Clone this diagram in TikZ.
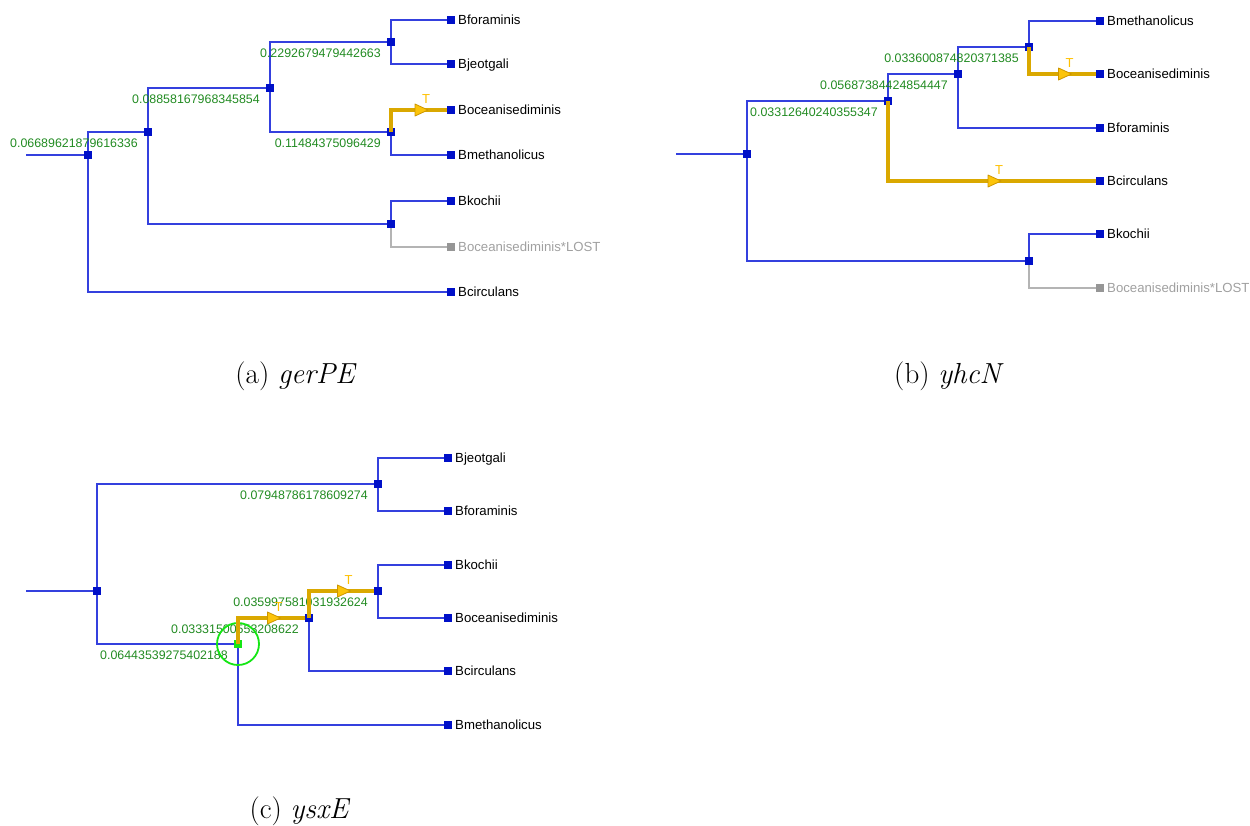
\documentclass[tikz,border=0pt]{standalone}
\usepackage{fontspec}
\newfontfamily\lsans{Liberation Sans}
\usetikzlibrary{calc}
\pgfdeclarelayer{edges}
\pgfdeclarelayer{marks}
\pgfsetlayers{edges,main,marks}

\definecolor{brblue}{RGB}{52,64,222}
\definecolor{sqblue}{RGB}{0,16,200}
\definecolor{lostline}{RGB}{180,180,180}
\definecolor{lostsq}{RGB}{150,150,150}
\definecolor{losttext}{RGB}{160,160,160}
\definecolor{lengreen}{RGB}{34,139,34}
\definecolor{hlgold}{RGB}{218,168,0}
\definecolor{trifill}{RGB}{252,196,10}
\definecolor{triedge}{RGB}{205,150,0}
\definecolor{tcol}{RGB}{255,192,0}
\definecolor{ringgreen}{RGB}{20,230,20}

% a leaf: square marker plus its name to the right
\newcommand{\mkleaf}[4]{%
  \node[bnode] (#1) at (#2,#3) {};
  \node[leaftxt] (#1-t) at ([shift={(7,4.7)}]#1.center) {#4};}
% a lost leaf, drawn in grey
\newcommand{\mklost}[4]{%
  \node[lostnode] (#1) at (#2,#3) {};
  \node[losttxt] (#1-t) at ([shift={(7,4.7)}]#1.center) {#4};}
% branch length written below-left of an internal node
\newcommand{\mklen}[2]{%
  \node[blen] (#1-len) at ([shift={(-10,15.4)}]#1.center) {#2};}

\begin{document}
\begin{tikzpicture}[x=1pt,y=-1pt,
  bnode/.style={rectangle, fill=sqblue, inner sep=0pt, minimum size=8pt},
  lostnode/.style={bnode, fill=lostsq},
  leaftxt/.style={anchor=base west, inner sep=0pt, font=\lsans\fontsize{13.2}{15}\selectfont},
  losttxt/.style={leaftxt, text=losttext},
  blen/.style={anchor=base east, inner sep=0pt, text=lengreen, font=\lsans\fontsize{12.4}{14}\selectfont},
  br/.style={draw=brblue, line width=1.1pt},
  lostbr/.style={draw=lostline, line width=1.1pt},
  hl/.style={draw=hlgold, line width=3.4pt},
  tlbl/.style={text=tcol, inner sep=0pt, font=\lsans\fontsize{13}{15}\selectfont},
  captxt/.style={font=\fontsize{29}{34}\selectfont, inner sep=0pt},
  tmark/.pic={
    \draw[fill=trifill, draw=triedge, line width=0.8pt, line join=round] (-6,-6) -- (7,0) -- (-6,6) -- cycle;
    \node[tlbl] (-t) at (5,-11) {T};}
]
\useasboundingbox (0,0) rectangle (1250,825);

% ---------------- tree (a) ----------------
\coordinate (a-s) at (26,155);
\node[bnode] (a-r)  at (88,155) {};
\node[bnode] (a-n1) at (148,132) {};
\node[bnode] (a-n2) at (270,88) {};
\node[bnode] (a-n3) at (391,42) {};
\node[bnode] (a-n4) at (391,132) {};
\node[bnode] (a-n5) at (391,224) {};
\mkleaf{a-bf}{451}{20}{Bforaminis}
\mkleaf{a-bj}{451}{64}{Bjeotgali}
\mkleaf{a-boc}{451}{110}{Boceanisediminis}
\mkleaf{a-bm}{451}{155}{Bmethanolicus}
\mkleaf{a-bk}{451}{201}{Bkochii}
\mklost{a-lost}{451}{247}{Boceanisediminis*LOST}
\mkleaf{a-bc}{451}{292}{Bcirculans}
\mklen{a-n1}{0.06689621879616336}
\mklen{a-n2}{0.08858167968345854}
\mklen{a-n3}{0.2292679479442663}
\mklen{a-n4}{0.11484375096429}
\begin{pgfonlayer}{edges}
  \draw[br] (a-s) -- (a-r);
  \draw[br] (a-r) |- (a-n1);
  \draw[br] (a-r) |- (a-bc);
  \draw[br] (a-n1) |- (a-n2);
  \draw[br] (a-n1) |- (a-n5);
  \draw[br] (a-n2) |- (a-n3);
  \draw[br] (a-n2) |- (a-n4);
  \draw[br] (a-n3) |- (a-bf);
  \draw[br] (a-n3) |- (a-bj);
  \draw[br] (a-n4) |- (a-bm);
  \draw[br] (a-n5) |- (a-bk);
  \draw[lostbr] (a-n5) |- (a-lost);
\end{pgfonlayer}
\begin{pgfonlayer}{marks}
  \draw[hl] (a-n4.center) |- (a-boc);
  \pic (a-m1) at ($(a-n4 |- a-boc)!0.5!(a-boc)$) {tmark};
\end{pgfonlayer}
\node[captxt] (cap-a) at (296,376) {(a) \textit{gerPE}};

% ---------------- tree (b) ----------------
\coordinate (b-s) at (676,154);
\node[bnode] (b-r)  at (747,154) {};
\node[bnode] (b-n1) at (888,101) {};
\node[bnode] (b-n2) at (958,74) {};
\node[bnode] (b-n3) at (1029,47) {};
\node[bnode] (b-n4) at (1029,261) {};
\mkleaf{b-bm}{1100}{21}{Bmethanolicus}
\mkleaf{b-boc}{1100}{74}{Boceanisediminis}
\mkleaf{b-bf}{1100}{128}{Bforaminis}
\mkleaf{b-bc}{1100}{181}{Bcirculans}
\mkleaf{b-bk}{1100}{234}{Bkochii}
\mklost{b-lost}{1100}{288}{Boceanisediminis*LOST}
\mklen{b-n1}{0.03312640240355347}
\mklen{b-n2}{0.05687384424854447}
\mklen{b-n3}{0.033600874820371385}
\begin{pgfonlayer}{edges}
  \draw[br] (b-s) -- (b-r);
  \draw[br] (b-r) |- (b-n1);
  \draw[br] (b-r) |- (b-n4);
  \draw[br] (b-n1) |- (b-n2);
  \draw[br] (b-n2) |- (b-n3);
  \draw[br] (b-n2) |- (b-bf);
  \draw[br] (b-n3) |- (b-bm);
  \draw[br] (b-n4) |- (b-bk);
  \draw[lostbr] (b-n4) |- (b-lost);
\end{pgfonlayer}
\begin{pgfonlayer}{marks}
  \draw[hl] (b-n3.center) |- (b-boc);
  \draw[hl] (b-n1.center) |- (b-bc);
  \pic (b-m1) at ($(b-n3 |- b-boc)!0.5!(b-boc)$) {tmark};
  \pic (b-m2) at ($(b-n1 |- b-bc)!0.5!(b-bc)$) {tmark};
\end{pgfonlayer}
\node[captxt] (cap-b) at (949,376) {(b) \textit{yhcN}};

% ---------------- tree (c) ----------------
\coordinate (c-s) at (26,591);
\node[bnode] (c-r)  at (97,591) {};
\node[bnode] (c-n1) at (378,484) {};
\node[bnode, fill=ringgreen] (c-n2) at (238,644) {};
\node[bnode] (c-n3) at (309,618) {};
\node[bnode] (c-n4) at (378,591) {};
\mkleaf{c-bj}{448}{458}{Bjeotgali}
\mkleaf{c-bf}{448}{511}{Bforaminis}
\mkleaf{c-bk}{448}{565}{Bkochii}
\mkleaf{c-boc}{448}{618}{Boceanisediminis}
\mkleaf{c-bc}{448}{671}{Bcirculans}
\mkleaf{c-bm}{448}{725}{Bmethanolicus}
\mklen{c-n1}{0.07948786178609274}
\mklen{c-n2}{0.06443539275402188}
\mklen{c-n3}{0.03331500553208622}
\mklen{c-n4}{0.035997581031932624}
\node[circle, draw=ringgreen, line width=1.8pt, minimum size=42pt, inner sep=0pt] (c-ring) at (c-n2) {};
\begin{pgfonlayer}{edges}
  \draw[br] (c-s) -- (c-r);
  \draw[br] (c-r) |- (c-n1);
  \draw[br] (c-r) |- (c-n2);
  \draw[br] (c-n1) |- (c-bj);
  \draw[br] (c-n1) |- (c-bf);
  \draw[br] (c-n2) |- (c-bm);
  \draw[br] (c-n3) |- (c-bc);
  \draw[br] (c-n4) |- (c-bk);
  \draw[br] (c-n4) |- (c-boc);
\end{pgfonlayer}
\begin{pgfonlayer}{marks}
  \draw[hl] (c-n2.center) |- (c-n3);
  \draw[hl] (c-n3.center) |- (c-n4);
  \pic (c-m1) at ($(c-n2 |- c-n3)!0.5!(c-n3)$) {tmark};
  \pic (c-m2) at ($(c-n3 |- c-n4)!0.5!(c-n4)$) {tmark};
\end{pgfonlayer}
\node[captxt] (cap-c) at (300,811) {(c) \textit{ysxE}};
\end{tikzpicture}
\end{document}
